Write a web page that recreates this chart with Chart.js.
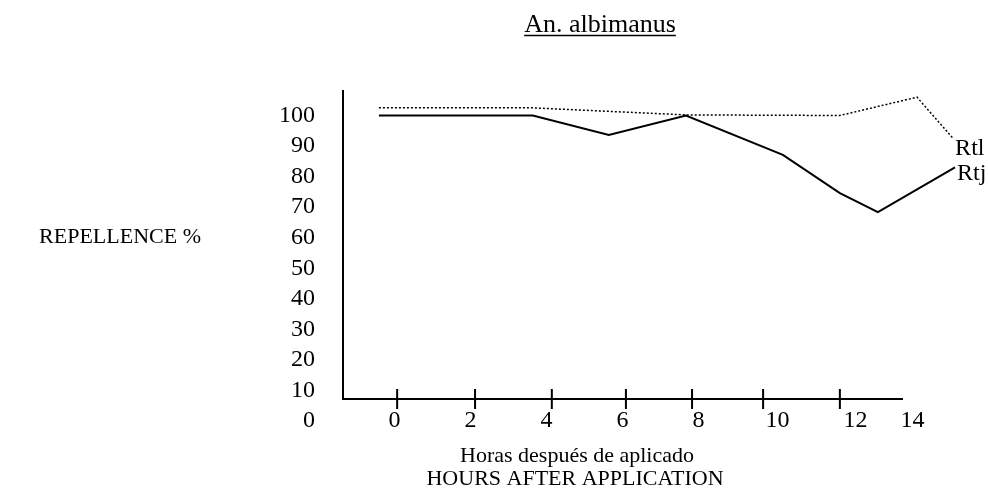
<!DOCTYPE html>
<html>
<head>
<meta charset="utf-8">
<script src="https://cdn.jsdelivr.net/npm/chart.js@4.4.0/dist/chart.umd.min.js"></script>
<style>
  html, body { margin: 0; padding: 0; background: #fff; }
</style>
</head>
<body>
<canvas id="myChart" width="988" height="496"></canvas>
<script>
// --------------------------- DATA ---------------------------

// Rtj, solid line (hours after application, repellence %)
const rtjHours  = [-0.41, 3.64, 5.64, 7.67, 10.22, 11.72, 12.72, 14.75];
const rtjValues = [100, 100, 93.6, 100, 87.1, 74.6, 68.4, 83];

// Rtl, dotted line
const rtlHours  = [-0.41, 3.64, 7.67, 11.72, 13.75, 14.7];
const rtlValues = [102.5, 102.5, 100.2, 100, 106, 92.5];

// axis labels and tick marks as printed
const xTickLabels = [0, 2, 4, 6, 8, 10, 12, 14];
const xTickMarks  = [0.07, 2.12, 4.14, 6.09, 7.83, 9.7, 11.72];
const yTickLabels = [0, 10, 20, 30, 40, 50, 60, 70, 80, 90, 100];
const xAxisEnd = 13.38;                                         // axis line stops short of 14

const FONT = '"Liberation Serif", "Times New Roman", serif';

// --------------------------- PLUGIN ---------------------------

// small shifts of the printed hour labels (px), they are not evenly spaced
const labelNudge = {10: 3, 12: 5, 14: -14};

// hand drawn looking axes, labels and titles
const paperAxes = {
    id: 'paperAxes',
    beforeDatasetsDraw(chart) {
        const {ctx, chartArea, scales: {x}} = chart;
        ctx.save();
        ctx.strokeStyle = '#000';
        ctx.lineWidth = 2;
        ctx.beginPath();
        ctx.moveTo(chartArea.left, chartArea.top);
        ctx.lineTo(chartArea.left, chartArea.bottom);
        ctx.lineTo(x.getPixelForValue(xAxisEnd), chartArea.bottom);
        ctx.stroke();

        // tick marks cross the axis
        ctx.beginPath();
        xTickMarks.forEach((h) => {
            const px = x.getPixelForValue(h);
            ctx.moveTo(px, chartArea.bottom - 10);
            ctx.lineTo(px, chartArea.bottom + 10);
        });
        ctx.stroke();
        ctx.restore();
    },
    afterDraw(chart) {
        const {ctx, chartArea, scales: {x, y}} = chart;
        ctx.save();
        ctx.fillStyle = '#000';
        ctx.strokeStyle = '#000';
        ctx.font = '24px ' + FONT;
        ctx.textBaseline = 'middle';

        // y labels
        ctx.textAlign = 'right';
        yTickLabels.forEach((v) => {
            ctx.fillText(String(v), chartArea.left - 28, y.getPixelForValue(v));
        });

        // x labels sit on the same row as the y "0"
        ctx.textAlign = 'center';
        const rowY = y.getPixelForValue(0);
        xTickLabels.forEach((h) => {
            ctx.fillText(String(h), x.getPixelForValue(h) + (labelNudge[h] || 0), rowY);
        });

        // axis titles
        ctx.font = '22px ' + FONT;
        ctx.textBaseline = 'alphabetic';
        ctx.fillText('Horas después de aplicado', 577, 462);
        ctx.fillText('HOURS AFTER APPLICATION', 575, 485);
        ctx.textAlign = 'right';
        ctx.textBaseline = 'middle';
        ctx.fillText('REPELLENCE %', 201, y.getPixelForValue(60));

        // title, underlined
        ctx.font = '26px ' + FONT;
        ctx.textAlign = 'center';
        ctx.textBaseline = 'alphabetic';
        const title = 'An. albimanus';
        ctx.fillText(title, 600, 32);
        const w = ctx.measureText(title).width;
        ctx.lineWidth = 1.5;
        ctx.beginPath();
        ctx.moveTo(600 - w / 2, 35.5);
        ctx.lineTo(600 + w / 2, 35.5);
        ctx.stroke();

        // series names at the line ends
        ctx.font = '24px ' + FONT;
        ctx.textAlign = 'left';
        chart.data.datasets.forEach((ds, i) => {
            const pts = chart.getDatasetMeta(i).data;
            const last = pts[pts.length - 1];
            ctx.fillText(ds.label, last.x + 2, last.y + ds.labelShift);
        });
        ctx.restore();
    }
};

// --------------------------- CHART ---------------------------

const toPoints = (xs, ys) => xs.map((h, i) => ({x: h, y: ys[i]}));

let ctx = document.querySelector('#myChart');
let myChart = new Chart(ctx, {
    type: 'line',
    data: {
        datasets: [{
            label: 'Rtl',
            data: toPoints(rtlHours, rtlValues),
            borderColor: '#000',
            borderWidth: 1.5,
            borderDash: [2, 2],
            pointRadius: 0,
            tension: 0,
            clip: false,
            labelShift: 17
        }, {
            label: 'Rtj',
            data: toPoints(rtjHours, rtjValues),
            borderColor: '#000',
            borderWidth: 2,
            pointRadius: 0,
            tension: 0,
            clip: false,
            labelShift: 13
        }]
    },
    options: {
        responsive: false,
        animation: false,
        devicePixelRatio: 1,
        layout: { padding: { left: 343, right: 25, top: 90, bottom: 97 } },
        plugins: { legend: { display: false }, tooltip: { enabled: false } },
        scales: {
            x: { type: 'linear', min: -1.355, max: 14.96, display: false },
            y: { type: 'linear', min: 7.2, max: 108.35, display: false }
        }
    },
    plugins: [paperAxes]
});
</script>
</body>
</html>
